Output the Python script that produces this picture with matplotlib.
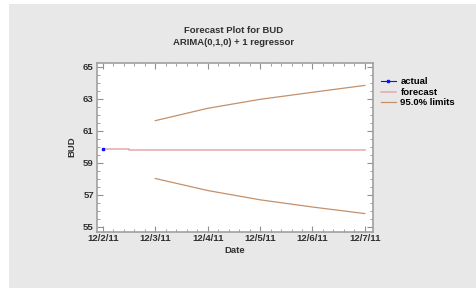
"""Forecast plot for BUD: ARIMA(0,1,0) + 1 regressor."""

import matplotlib

matplotlib.use("Agg")
import matplotlib.pyplot as plt
from matplotlib.patches import Rectangle
from matplotlib.ticker import MultipleLocator

plt.rcParams["font.family"] = ["Liberation Sans", "DejaVu Sans"]

DATES = ["12/2/11", "12/3/11", "12/4/11", "12/5/11", "12/6/11", "12/7/11"]
ACTUAL_X = [0]
ACTUAL = [59.87]
FORECAST_X = [0, 0.5, 0.5, 1, 2, 3, 4, 5]
FORECAST = [59.87, 59.87, 59.82, 59.82, 59.82, 59.82, 59.82, 59.82]
LIMIT_X = [1, 2, 3, 4, 5]
UPPER = [61.63, 62.40, 62.96, 63.40, 63.83]
LOWER = [58.02, 57.27, 56.69, 56.24, 55.83]

fig = plt.figure(figsize=(4.76, 2.88), dpi=100)
fig.patch.set_facecolor("white")
fig.patches.append(
    Rectangle((9 / 476, 0), 1, 1 - 4 / 288, transform=fig.transFigure,
              facecolor="#e8e8e8", edgecolor="none", zorder=-10)
)

ax = fig.add_axes([0.203, 0.1955, 0.580, 0.587])
ax.set_zorder(5)
ax.set_facecolor("white")

ax.plot(FORECAST_X, FORECAST, color="#e4a8a8", lw=1.1, label="forecast", zorder=2)
ax.plot(LIMIT_X, UPPER, color="#c4906a", lw=0.9, label="95.0% limits", zorder=2)
ax.plot(LIMIT_X, LOWER, color="#c4906a", lw=0.9, zorder=2)
ax.plot(ACTUAL_X, ACTUAL, color="#1010ff", lw=0.8, marker="s", ms=2.0,
        label="actual", zorder=3)

ax.set_xlim(-0.12, 5.15)
ax.set_ylim(54.7, 65.25)
ax.set_xticks(range(len(DATES)))
ax.set_xticklabels(DATES)
ax.xaxis.set_minor_locator(MultipleLocator(0.2))
ax.set_yticks([55, 57, 59, 61, 63, 65])
ax.yaxis.set_minor_locator(MultipleLocator(0.5))

ax.tick_params(which="both", direction="in", top=True, right=True,
               color="#909090", labelsize=6.8, pad=2)
ax.tick_params(which="major", length=4, width=0.8)
ax.tick_params(which="minor", length=2, width=0.6)
for label in ax.get_xticklabels() + ax.get_yticklabels():
    label.set_fontweight("bold")
    label.set_color("#303030")

for spine in ax.spines.values():
    spine.set_color("#a0a0a0")
    spine.set_linewidth(1.2)

ax.set_xlabel("Date", fontsize=6.8, fontweight="bold", color="#303030", labelpad=2)
ax.set_ylabel("BUD", fontsize=6.8, fontweight="bold", color="#303030", labelpad=5)

fig.text(0.49, 0.895, "Forecast Plot for BUD", ha="center", va="center",
         fontsize=6.8, color="#303030", fontweight="bold")
fig.text(0.49, 0.853, "ARIMA(0,1,0) + 1 regressor", ha="center", va="center",
         fontsize=6.8, color="#303030", fontweight="bold")

handles, labels = ax.get_legend_handles_labels()
order = [2, 0, 1]
ax.legend([handles[i] for i in order], [labels[i] for i in order],
          loc="upper left", bbox_to_anchor=(1.015, 0.935), frameon=False,
          handlelength=1.6, handletextpad=0.5,
          labelspacing=0.15, borderaxespad=0,
          prop={"weight": "bold", "size": 6.8})

fig.savefig("out.png", dpi=100)
